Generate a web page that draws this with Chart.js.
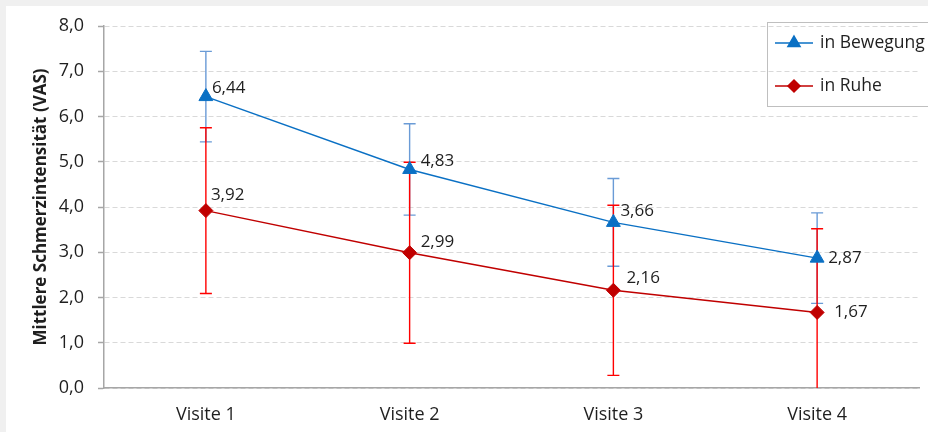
<!DOCTYPE html>
<html>
<head>
<meta charset="utf-8">
<script src="https://cdn.jsdelivr.net/npm/chart.js@4.4.1/dist/chart.umd.min.js"></script>
<style>
  html, body { margin: 0; padding: 0; background: #f0f0f0; width: 928px; height: 432px; overflow: hidden; }
  #wrap { position: absolute; left: 6px; top: 6px; width: 922px; height: 426px; background: #ffffff; }
  canvas { display: block; }
</style>
</head>
<body>
<div id="wrap"><canvas id="chart" width="922" height="426"></canvas></div>
<script>
// Mean pain intensity (VAS) per visit, with standard deviation
const categories = ['Visite 1', 'Visite 2', 'Visite 3', 'Visite 4'];
const seriesNames = ['in Bewegung', 'in Ruhe'];
const bewegungMean = [6.44, 4.83, 3.66, 2.87];
const bewegungSD   = [1.00, 1.01, 0.97, 1.00];
const ruheMean     = [3.92, 2.99, 2.16, 1.67];
const ruheSD       = [1.83, 2.00, 1.88, 1.85];
const yTicks = [0, 1, 2, 3, 4, 5, 6, 7, 8];

const FONT = "'Open Sans', 'DejaVu Sans', sans-serif";
const TEXT = '#1f1f1f';

// per-point label offsets (dx, dy) from the marker, in px
const labelOffsets = [
  [[6, -8], [11, -8], [7, -11], [11, 0]],
  [[5, -15], [11, -11], [13, -12], [17, 0]]
];
const errorColors = ['#6a9bd6', '#ff0000'];
const sdArrays = [bewegungSD, ruheSD];

const fmt = v => v.toFixed(2).replace('.', ',');

const errorBars = {
  id: 'errorBars',
  beforeDatasetsDraw(chart) {
    const { ctx, scales: { x, y }, chartArea } = chart;
    ctx.save();
    ctx.beginPath();
    ctx.rect(chartArea.left, chartArea.top - 2, chartArea.right - chartArea.left, chartArea.bottom - chartArea.top + 2);
    ctx.clip();
    chart.data.datasets.forEach((ds, di) => {
      const sd = sdArrays[di];
      ctx.strokeStyle = errorColors[di];
      ctx.lineWidth = 1.4;
      ds.data.forEach((v, i) => {
        const px = x.getPixelForValue(i);
        const lo = Math.max(v - sd[i], y.min);
        const yHi = y.getPixelForValue(v + sd[i]);
        const yLo = y.getPixelForValue(lo);
        ctx.beginPath();
        ctx.moveTo(px, yHi); ctx.lineTo(px, yLo);
        ctx.moveTo(px - 6, yHi); ctx.lineTo(px + 6, yHi);
        if (v - sd[i] > y.min) { ctx.moveTo(px - 6, yLo); ctx.lineTo(px + 6, yLo); }
        ctx.stroke();
      });
    });
    ctx.restore();
  }
};

const valueLabels = {
  id: 'valueLabels',
  afterDatasetsDraw(chart) {
    const { ctx, scales: { x, y } } = chart;
    ctx.save();
    ctx.font = '17px ' + FONT;
    ctx.fillStyle = TEXT;
    ctx.textAlign = 'left';
    ctx.textBaseline = 'middle';
    chart.data.datasets.forEach((ds, di) => {
      ds.data.forEach((v, i) => {
        const [dx, dy] = labelOffsets[di][i];
        ctx.fillText(fmt(v), x.getPixelForValue(i) + dx, y.getPixelForValue(v) + dy);
      });
    });
    ctx.restore();
  }
};

// boxed legend in the upper right corner
const boxLegend = {
  id: 'boxLegend',
  afterDraw(chart) {
    const { ctx } = chart;
    const left = 761, top = 16, bottom = 100;
    ctx.save();
    ctx.strokeStyle = '#bfbfbf';
    ctx.lineWidth = 1;
    ctx.strokeRect(left + 0.5, top + 0.5, 200, bottom - top);
    const rows = [37, 80];
    chart.data.datasets.forEach((ds, di) => {
      const yy = rows[di];
      ctx.strokeStyle = ds.borderColor;
      ctx.lineWidth = 1.5;
      ctx.beginPath(); ctx.moveTo(769, yy); ctx.lineTo(807, yy); ctx.stroke();
      ctx.fillStyle = ds.pointBackgroundColor;
      ctx.strokeStyle = ds.pointBackgroundColor;
      Chart.helpers.drawPoint(ctx, {
        pointStyle: ds.pointStyle, radius: ds.pointRadius - 1, borderWidth: 1, rotation: 0
      }, 788, yy);
      ctx.fillStyle = TEXT;
      ctx.font = '17.5px ' + FONT;
      ctx.textBaseline = 'middle';
      ctx.fillText(ds.label, 814, yy);
    });
    ctx.restore();
  }
};

new Chart(document.getElementById('chart'), {
  type: 'line',
  data: {
    labels: categories,
    datasets: [
      {
        label: seriesNames[0], data: bewegungMean,
        borderColor: '#0a70c4', borderWidth: 1.5,
        pointStyle: 'triangle', pointRadius: 8,
        pointBackgroundColor: '#0a70c4', pointBorderColor: '#0a70c4', pointBorderWidth: 1,
        tension: 0
      },
      {
        label: seriesNames[1], data: ruheMean,
        borderColor: '#c00000', borderWidth: 1.5,
        pointStyle: 'rectRot', pointRadius: 7,
        pointBackgroundColor: '#c00000', pointBorderColor: '#c00000', pointBorderWidth: 1,
        tension: 0
      }
    ]
  },
  options: {
    responsive: false,
    animation: false,
    events: [],
    layout: { padding: { left: 21, right: 7, top: 20, bottom: 0 } },
    plugins: { legend: { display: false }, tooltip: { enabled: false } },
    scales: {
      x: {
        offset: true,
        grid: { display: false, drawTicks: false },
        border: { display: true, color: '#a6a6a6', width: 1.5 },
        ticks: { color: TEXT, font: { family: FONT, size: 18 }, padding: 16 },
        afterFit: s => { s.height = 44; }
      },
      y: {
        min: 0, max: 8,
        afterBuildTicks: s => { s.ticks = yTicks.map(v => ({ value: v })); },
        grid: { color: '#d9d9d9', lineWidth: 1, tickLength: 6, tickColor: '#a6a6a6', tickWidth: 1.5 },
        border: { display: true, color: '#a6a6a6', width: 1.5, dash: [5, 3] },
        ticks: {
          color: TEXT, font: { family: FONT, size: 18 }, padding: 14,
          callback: v => v.toFixed(1).replace('.', ',')
        },
        title: {
          display: true, text: 'Mittlere Schmerzintensität (VAS)',
          color: TEXT, font: { family: FONT, size: 17, weight: 'bold' }
        },
        afterFit: s => { s.width = 77; s.paddingTop = 4; s.paddingBottom = 4; }
      }
    }
  },
  plugins: [errorBars, valueLabels, boxLegend]
});
</script>
</body>
</html>
